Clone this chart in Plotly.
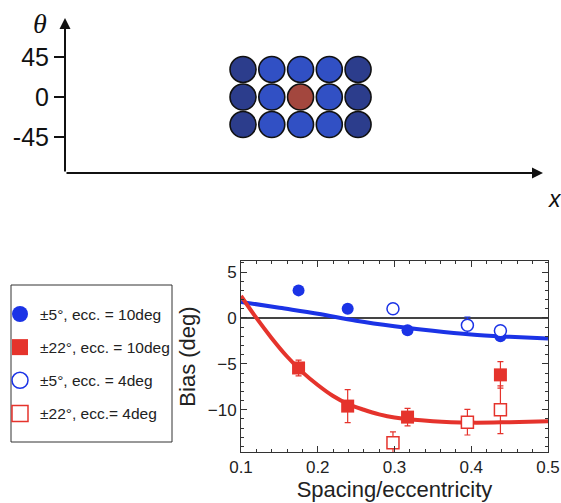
import plotly.graph_objects as go

# ---------------- schematic (top) ----------------
col_pos = [-2, -1, 0, 1, 2]
row_theta = [31, 0, -31]
col_colors = ['#2c3d8c', '#3150c4', '#3150c4', '#3150c4', '#2c3d8c']
target_color = '#a3473e'
theta_ticks = [45, 0, -45]
theta_ticktext = ['45', '0', '-45']

# ---------------- data (bottom) ----------------
fb_x = [0.175, 0.239, 0.317, 0.438]
fb_y = [3.0, 1.0, -1.35, -2.0]
fb_err = [0.15, 0.15, 0.2, 0.2]

ob_x = [0.298, 0.395, 0.438]
ob_y = [1.0, -0.8, -1.4]
ob_err = [0.15, 0.9, 0.2]

fr_x = [0.175, 0.239, 0.317, 0.438]
fr_y = [-5.45, -9.6, -10.8, -6.2]
fr_err = [0.85, 1.8, 0.95, 1.45]

or_x = [0.298, 0.395, 0.438]
or_y = [-13.6, -11.35, -10.0]
or_err = [1.2, 1.4, 2.6]

blue_fit_x = [0.10, 0.15, 0.20, 0.25, 0.30, 0.35, 0.40, 0.45, 0.50]
blue_fit_y = [1.75, 1.1, 0.45, -0.3, -0.9, -1.4, -1.8, -2.05, -2.25]

red_fit_x = [0.10, 0.12, 0.14, 0.16, 0.18, 0.20, 0.22, 0.24, 0.26, 0.28, 0.30, 0.35, 0.40, 0.45, 0.50]
red_fit_y = [2.4, 0.0, -2.2, -4.2, -5.9, -7.3, -8.5, -9.4, -10.0, -10.5, -10.85, -11.25, -11.4, -11.35, -11.25]

legend_names = ['±5°, ecc. = 10deg', '±22°, ecc. = 10deg', '±5°, ecc. = 4deg', '±22°, ecc.= 4deg']

BLUE = '#1b33e6'
RED = '#e5332c'
W, H = 561, 503

fig = go.Figure()

# schematic circles
cx, cy, cc = [], [], []
for r in row_theta:
    for j, c in enumerate(col_pos):
        cx.append(c)
        cy.append(r)
        cc.append(target_color if (r == 0 and c == 0) else col_colors[j])
fig.add_trace(go.Scatter(x=cx, y=cy, mode='markers', xaxis='x2', yaxis='y2',
                         marker=dict(size=26, color=cc, line=dict(color='#111', width=1.6)),
                         showlegend=False, hoverinfo='skip'))

# fits
fig.add_trace(go.Scatter(x=blue_fit_x, y=blue_fit_y, mode='lines', line=dict(color=BLUE, width=4, shape='spline'),
                         showlegend=False, hoverinfo='skip'))
fig.add_trace(go.Scatter(x=red_fit_x, y=red_fit_y, mode='lines', line=dict(color=RED, width=4, shape='spline'),
                         showlegend=False, hoverinfo='skip'))

def err(vals, color):
    return dict(type='data', array=vals, visible=True, color=color, thickness=1.2, width=3)

fig.add_trace(go.Scatter(x=fb_x, y=fb_y, mode='markers', showlegend=False,
                         marker=dict(symbol='circle', size=12, color=BLUE), error_y=err(fb_err, BLUE)))
fig.add_trace(go.Scatter(x=fr_x, y=fr_y, mode='markers', showlegend=False,
                         marker=dict(symbol='square', size=13, color=RED), error_y=err(fr_err, RED)))
fig.add_trace(go.Scatter(x=ob_x, y=ob_y, mode='markers', showlegend=False,
                         marker=dict(symbol='circle', size=12, color='white', line=dict(color=BLUE, width=1.5)),
                         error_y=err(ob_err, BLUE)))
fig.add_trace(go.Scatter(x=or_x, y=or_y, mode='markers', showlegend=False,
                         marker=dict(symbol='square', size=12, color='white', line=dict(color=RED, width=1.5)),
                         error_y=err(or_err, RED)))

# legend entries (larger symbols, as in the reference key)
legend_markers = [
    dict(symbol='circle', size=20, color=BLUE),
    dict(symbol='square', size=20, color=RED),
    dict(symbol='circle', size=20, color='white', line=dict(color=BLUE, width=1.5)),
    dict(symbol='square', size=20, color='white', line=dict(color=RED, width=1.5)),
]
for i, (nm, mk) in enumerate(zip(legend_names, legend_markers)):
    fig.add_trace(go.Scatter(x=[None], y=[None], mode='markers', name=nm, legendgroup=str(i), marker=mk))

x2_range = [-8.19, 8.43]
y2_range = [-85.5, 88.9]

# schematic axes arrows
fig.add_annotation(x=x2_range[0], y=y2_range[1], ax=x2_range[0], ay=y2_range[0],
                   xref='x2', yref='y2', axref='x2', ayref='y2', text='', showarrow=True,
                   arrowhead=2, arrowsize=1.1, arrowwidth=2, arrowcolor='#111', standoff=0, startstandoff=0)
fig.add_annotation(x=x2_range[1], y=y2_range[0], ax=x2_range[0], ay=y2_range[0],
                   xref='x2', yref='y2', axref='x2', ayref='y2', text='', showarrow=True,
                   arrowhead=2, arrowsize=1.1, arrowwidth=2, arrowcolor='#111', standoff=0, startstandoff=0)
fig.add_annotation(x=40 / W, y=1 - 24 / H, xref='paper', yref='paper', text='<i>θ</i>', showarrow=False,
                   xanchor='center', yanchor='middle',
                   font=dict(family='Liberation Serif', size=28, color='#111'))
fig.add_annotation(x=555 / W, y=1 - 199 / H, xref='paper', yref='paper', text='<i>x</i>', showarrow=False,
                   xanchor='center', yanchor='middle',
                   font=dict(family='Liberation Sans', size=23, color='#111'))

# legend frame
fig.add_shape(type='rect', xref='paper', yref='paper', x0=11 / W, x1=172 / W, y0=1 - 442 / H, y1=1 - 285 / H,
              line=dict(color='#333', width=1), fillcolor='rgba(0,0,0,0)', layer='below')

axis_font = dict(family='Liberation Sans', size=17, color='#222')
title_font = dict(family='Liberation Sans', size=22, color='#222')
fig.update_layout(
    width=W, height=H, margin=dict(l=0, r=0, t=0, b=0, autoexpand=False),
    paper_bgcolor='white', plot_bgcolor='white',
    xaxis=dict(domain=[241 / W, 548 / W], anchor='y', range=[0.1, 0.5], tick0=0.1, dtick=0.1, tickformat='.1f',
               ticks='inside', ticklen=6, tickwidth=1, tickcolor='#333',
               minor=dict(dtick=0.02, ticks='inside', ticklen=3, tickcolor='#333'),
               showline=True, mirror='ticks', linecolor='#333', linewidth=1,
               showgrid=False, zeroline=False, tickfont=axis_font,
               title=dict(text='Spacing/eccentricity', font=title_font, standoff=2)),
    yaxis=dict(domain=[51 / H, 242 / H], anchor='x', range=[-14.6, 6.2], tick0=0, dtick=5,
               ticks='inside', ticklen=6, tickwidth=1, tickcolor='#333',
               minor=dict(dtick=1, ticks='inside', ticklen=3, tickcolor='#333'),
               showline=True, mirror='ticks', linecolor='#333', linewidth=1,
               showgrid=False, zeroline=True, zerolinecolor='#444', zerolinewidth=1.5, tickfont=axis_font,
               title=dict(text='Bias (deg)', font=title_font, standoff=6)),
    xaxis2=dict(domain=[65 / W, 543 / W], anchor='y2', range=x2_range, visible=False),
    yaxis2=dict(domain=[330 / H, 485 / H], anchor='x2', range=y2_range, tickvals=theta_ticks, ticktext=theta_ticktext,
                ticks='outside', ticklen=10, tickwidth=2, tickcolor='#111', showline=False, showgrid=False,
                zeroline=False, tickfont=dict(family='Liberation Sans', size=25, color='#111')),
    yaxis3=dict(overlaying='y2', anchor='x2', range=y2_range, tickvals=theta_ticks, showticklabels=False,
                ticks='inside', ticklen=7, tickwidth=2, tickcolor='#111', showline=False, showgrid=False,
                zeroline=False),
    legend=dict(x=0, y=1 - 287 / H, xanchor='left', yanchor='top', borderwidth=0,
                bgcolor='rgba(0,0,0,0)', font=dict(family='Liberation Sans', size=15.5, color='#222'),
                tracegroupgap=10, title=dict(text=' ', font=dict(size=8))),
    showlegend=True,
)

fig.write_html("out.html", config={'displayModeBar': False},
               post_script="document.body.style.margin='0';document.body.style.overflow='hidden';")
